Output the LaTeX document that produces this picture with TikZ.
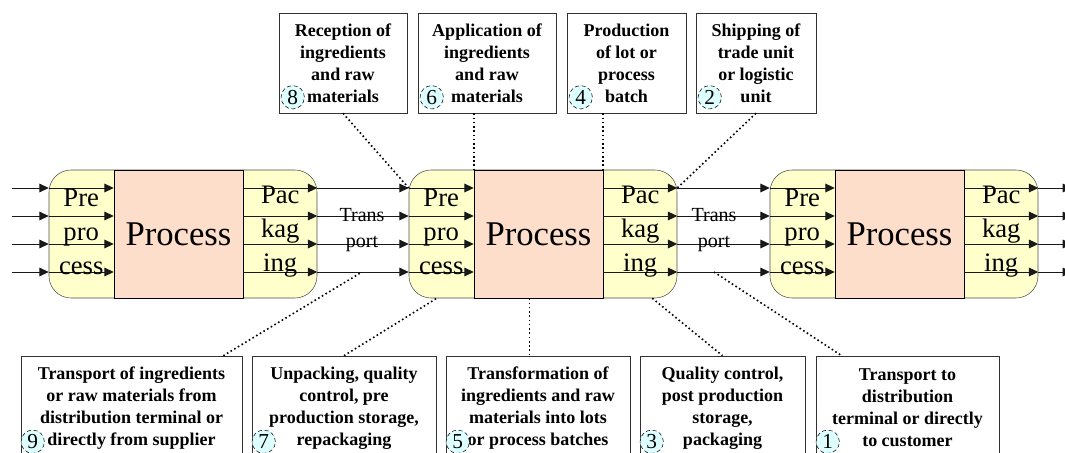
\documentclass[tikz,border=0pt]{standalone}
\usepackage{fontspec}
\setmainfont{Liberation Serif}
\usetikzlibrary{arrows.meta, positioning, calc}
\definecolor{pre-yellow}{RGB}{255,255,204}
\definecolor{proc-peach}{RGB}{252,222,202}
\definecolor{num-cyan}{RGB}{222,255,255}

\begin{document}
\begin{tikzpicture}[
    x=0.75pt, y=-0.75pt,
    unit/.style={rectangle, draw=black!70, fill=pre-yellow, rounded corners=16.5pt, minimum width=201pt, minimum height=96pt, inner sep=0pt},
    proc/.style={rectangle, draw=black, fill=proc-peach, minimum width=96.75pt, minimum height=96pt, inner sep=0pt, font=\fontsize{26}{30}\selectfont},
    side/.style={align=center, inner sep=0pt, font=\fontsize{20}{25.5}\selectfont},
    trans/.style={align=center, inner sep=0pt, font=\fontsize{15}{19}\selectfont},
    task/.style={rectangle, draw=black!80, fill=white, align=center, inner sep=0pt, font=\bfseries\fontsize{13.5}{16.5}\selectfont},
    num/.style={circle, draw=black, densely dashed, fill=num-cyan, minimum size=17.5pt, inner sep=0pt, font=\fontsize{16}{16}\selectfont},
    flow/.style={-{Triangle[length=7pt,width=6.5pt]}, black!90, line width=0.75pt},
    link/.style={dotted, line width=1.2pt}
]
\useasboundingbox (0,0) rectangle (1065,453);

% process units
\foreach \i/\x in {1/183,2/543,3/904} {
  \node[unit] (u\i) at (\x,234) {};
  \node[proc, anchor=west] (p\i) at ($(u\i.west)+(65,0)$) {Process};
}

% material flow
\foreach \r/\y in {1/188,2/216,3/244,4/272} {
  \coordinate (row\r) at (12,\y);
  \coordinate (end\r) at (1072,\y);
}
\foreach \r in {1,...,4} {
  \draw[flow] (row\r) -- (u1.west |- row\r);
  \foreach \i in {1,2,3} {
    \draw[flow] (u\i.west |- row\r) -- (p\i.west |- row\r);
    \draw[flow] (p\i.east |- row\r) -- (u\i.east |- row\r);
  }
  \foreach \i/\j in {1/2,2/3}
    \draw[flow] (u\i.east |- row\r) -- (u\j.west |- row\r);
  \draw[flow] (u3.east |- row\r) -- (end\r);
}

\foreach \i in {1,2,3} {
  \node[side] (pre\i) at ($(u\i.west)+(32.5,-2)$) {Pre\\pro\\cess};
  \node[side] (pac\i) at ($(p\i.east)+(37,-2)$) {Pac\\kag\\ing};
}
\node[trans] (tr1) at (362,230) {Trans\\port};
\node[trans] (tr2) at (714,230) {Trans\\port};

% tasks above
\foreach \n/\x/\w/\txt in {8/343/96/{Reception of\\ingredients\\and raw\\materials},
    6/487/103.5/{Application of\\ingredients\\and raw\\materials},
    4/626.5/89.25/{Production\\of lot or\\process\\batch},
    2/756/90/{Shipping of\\trade unit\\or logistic\\unit}} {
  \node[task, minimum width=\w pt, minimum height=75pt] (b\n) at (\x,63) {\txt};
  \node[num] (n\n) at ($(b\n.south west)+(14,-16)$) {\n};
}

% tasks below
\foreach \n/\x/\w/\txt in {9/131.5/165.75/{Transport of ingredients\\or raw materials from\\distribution terminal or\\directly from supplier},
    7/344/138/{Unpacking, quality\\control, pre\\production storage,\\repackaging},
    5/538/138/{Transformation of\\ingredients and raw\\materials into lots\\or process batches},
    3/722.5/123.75/{Quality control,\\post production\\storage,\\packaging},
    1/907.5/137.25/{Transport to\\distribution\\terminal or directly\\to customer}} {
  \node[task, minimum width=\w pt, minimum height=78pt] (b\n) at (\x,408) {\txt};
  \node[num] (n\n) at ($(b\n.north west)+(12,86)$) {\n};
}

% links
\draw[link] (b8.south) -- (u2.west |- row1);
\draw[link] (p2.north west |- b6.south) -- (p2.north west);
\draw[link] (p2.north east |- b4.south) -- (p2.north east);
\draw[link] (b2.south) -- (u2.east |- row1);
\draw[link] ($(b9.north east)+(-19,0)$) -- (tr1 |- row4);
\draw[link] (b7.north) -- ($(u2.south west)+(28,0)$);
\coordinate (c5) at ($(p2.south)+(-9,0)$);
\draw[link] (c5) -- (c5 |- b5.north);
\draw[link] ($(u2.south east)+(-25,0)$) -- (b3.north);
\draw[link] (tr2 |- row4) -- ($(b1.north west)+(26,0)$);

\end{tikzpicture}
\end{document}
